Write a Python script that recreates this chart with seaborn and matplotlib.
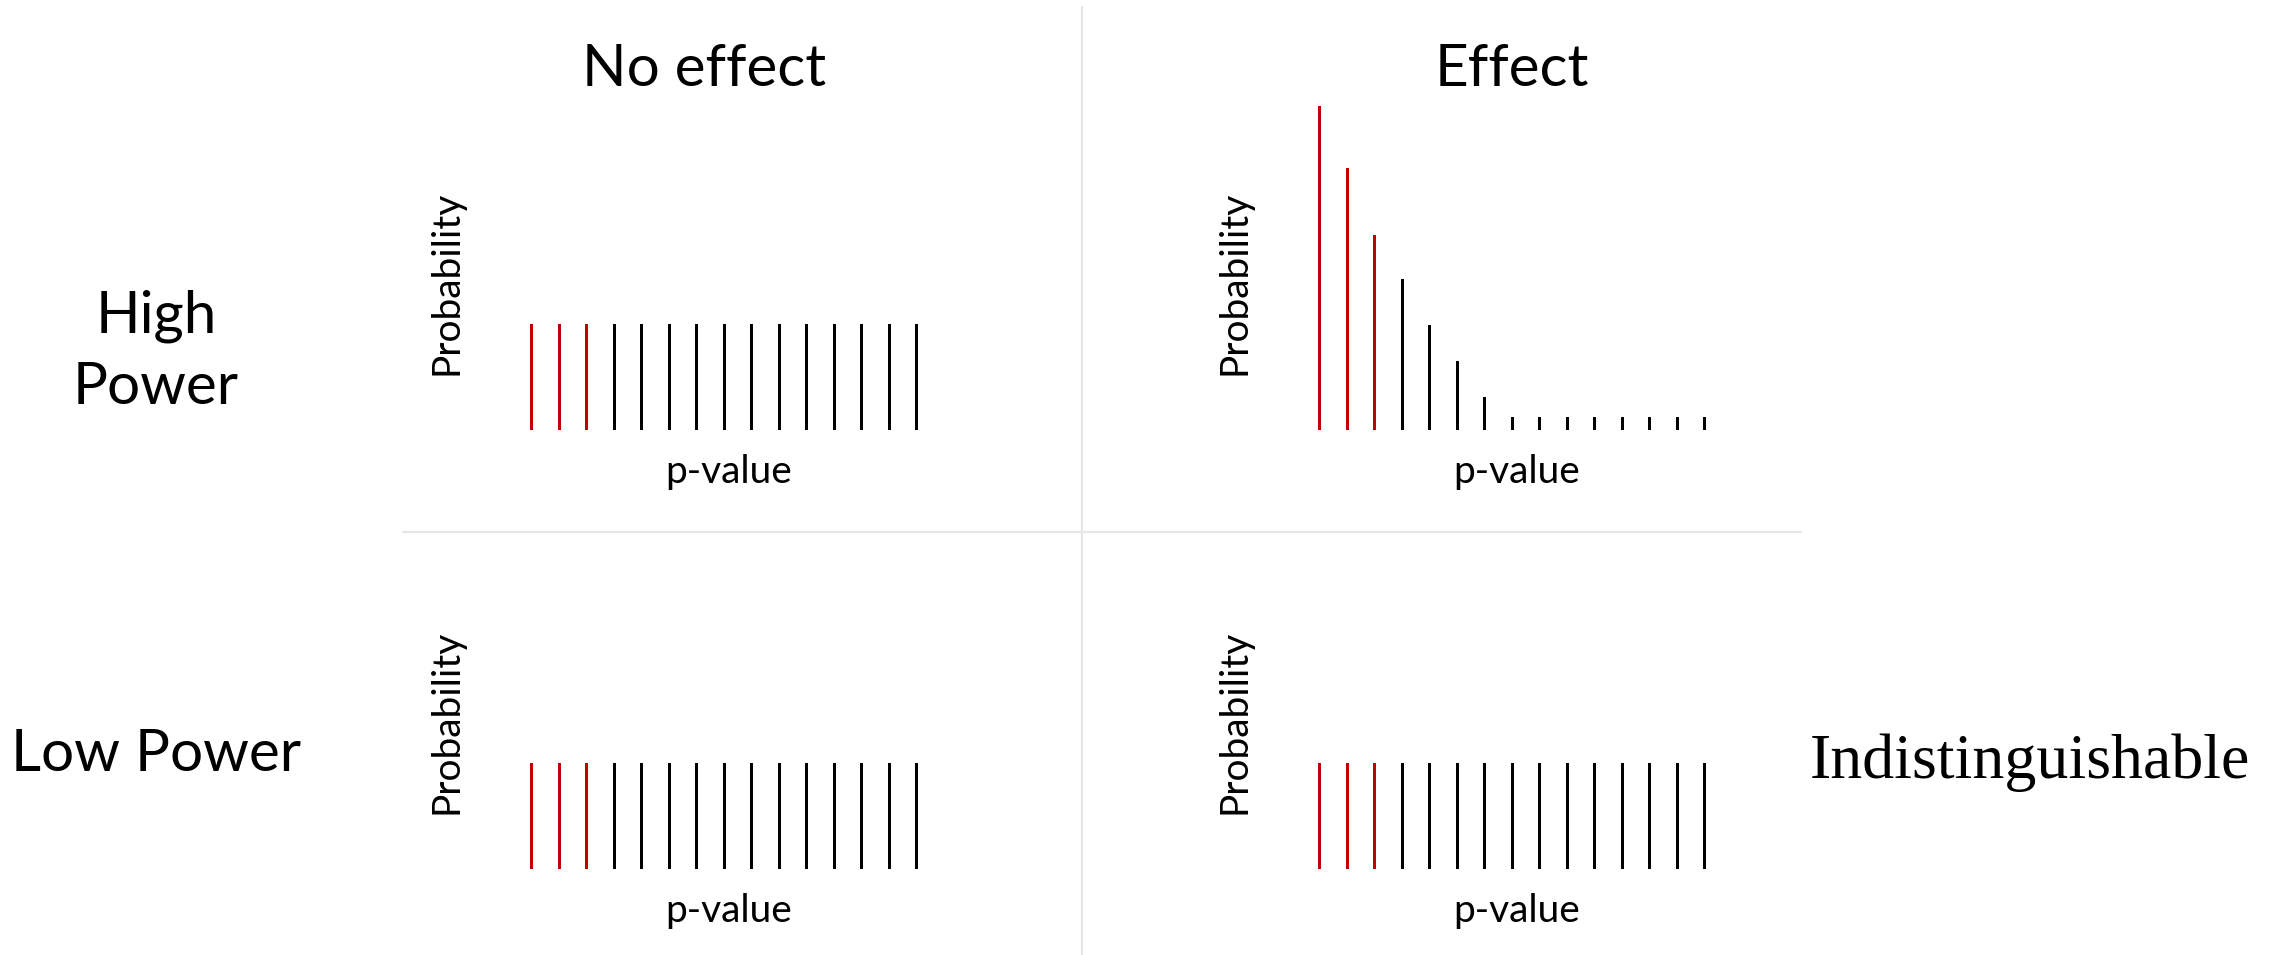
import numpy as np
import pandas as pd
import matplotlib
matplotlib.use("Agg")
import matplotlib.pyplot as plt
from matplotlib.lines import Line2D
import seaborn as sns

# p-value bins and probability of landing in each bin
p_bins = list(range(1, 16))
significant = ["yes", "yes", "yes", "no", "no", "no", "no", "no",
               "no", "no", "no", "no", "no", "no", "no"]
null_high = [1.0, 1.0, 1.0, 1.0, 1.0, 1.0, 1.0, 1.0, 1.0, 1.0, 1.0, 1.0, 1.0, 1.0, 1.0]
effect_high = [3.06, 2.47, 1.84, 1.43, 0.99, 0.65, 0.31, 0.12,
               0.12, 0.12, 0.12, 0.12, 0.12, 0.12, 0.12]
null_low = [1.0, 1.0, 1.0, 1.0, 1.0, 1.0, 1.0, 1.0, 1.0, 1.0, 1.0, 1.0, 1.0, 1.0, 1.0]
effect_low = [1.0, 1.0, 1.0, 1.0, 1.0, 1.0, 1.0, 1.0, 1.0, 1.0, 1.0, 1.0, 1.0, 1.0, 1.0]

col_titles = ["No effect", "Effect"]
row_titles = ["High\nPower", "Low Power"]
verdict = "Indistinguishable"

sns.set_theme(style="white")
plt.rcParams["font.family"] = ["Lato", "DejaVu Sans"]
plt.rcParams["text.color"] = "black"
plt.rcParams["axes.labelcolor"] = "black"

W, H = 2287, 955
fig = plt.figure(figsize=(W / 100, H / 100), dpi=100)

palette = {"yes": "#c00000", "no": "#000000"}


def px_axes(left, baseline, width=412.5, height=339):
    """Add axes given pixel positions (top-left origin)"""
    return fig.add_axes([left / W, (H - baseline) / H, width / W, height / H])


def stem_panel(ax, values):
    df = pd.DataFrame({"bin": p_bins, "prob": values, "sig": significant})
    sns.barplot(data=df, x="bin", y="prob", hue="sig", palette=palette,
                width=0.11, dodge=False, legend=False, saturation=1,
                linewidth=0, ax=ax)
    ax.set_xlim(-0.5, 14.5)
    ax.set_ylim(0, 3.2)
    ax.set_xticks([])
    ax.set_yticks([])
    ax.set_facecolor("none")
    sns.despine(ax=ax, left=True, bottom=True)
    ax.set_xlabel("p-value", fontsize=28)
    ax.set_ylabel("Probability", fontsize=28)
    ax.xaxis.set_label_coords(0.51, -0.07)
    ax.yaxis.set_label_coords(-0.13, 0.434)


panels = [(518, 430, null_high), (1306, 430, effect_high),
          (518, 869, null_low), (1306, 869, effect_low)]
for left, base, vals in panels:
    stem_panel(px_axes(left, base), vals)

# column and row headers
fig.text(704 / W, 1 - 70 / H, col_titles[0], fontsize=42, ha="center", va="center")
fig.text(1512 / W, 1 - 70 / H, col_titles[1], fontsize=42, ha="center", va="center")
fig.text(156 / W, 1 - 352 / H, row_titles[0], fontsize=42, ha="center", va="center",
         linespacing=1.42)
fig.text(156 / W, 1 - 754 / H, row_titles[1], fontsize=42, ha="center", va="center")
fig.text(2030 / W, 1 - 763 / H, verdict, fontsize=46, ha="center", va="center",
         family="Liberation Serif")

# grid dividers
fig.add_artist(Line2D([1082 / W, 1082 / W], [1 - 7 / H, 0], color="#e6e6e6", lw=1.6))
fig.add_artist(Line2D([403 / W, 1801 / W], [1 - 532 / H, 1 - 532 / H], color="#e6e6e6", lw=1.6))

fig.savefig("out.png", dpi=100)
